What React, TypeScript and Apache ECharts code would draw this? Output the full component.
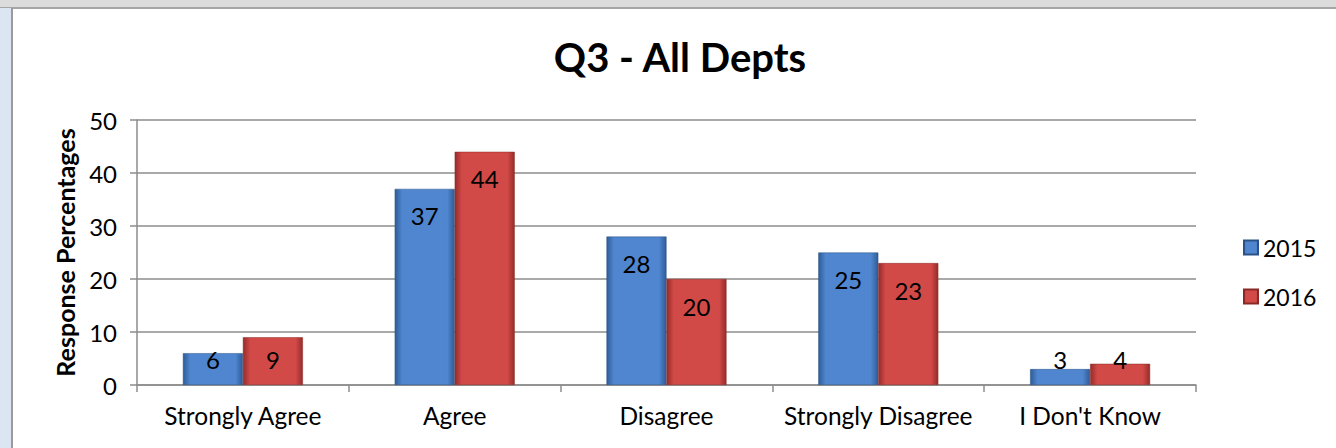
import React, { useEffect, useRef } from "react";
import * as echarts from "echarts";

const categories = ["Strongly Agree", "Agree", "Disagree", "Strongly Disagree", "I Don't Know"];
const series2015 = [6, 37, 28, 25, 3];
const series2016 = [9, 44, 20, 23, 4];
const yTicks = { min: 0, max: 50, interval: 10 };
const titleText = "Q3 - All Depts";
const yAxisTitle = "Response Percentages";

const FONT = "Lato, 'Open Sans', sans-serif";

function grad(dark: string, light: string) {
  return new echarts.graphic.LinearGradient(0, 0, 1, 0, [
    { offset: 0, color: dark },
    { offset: 0.12, color: light },
    { offset: 0.88, color: light },
    { offset: 1, color: dark },
  ]);
}

function makeData(values: number[]) {
  return values.map((v) => ({
    value: v,
    label:
      v < 11
        ? { position: "insideBottom", distance: 14 }
        : { position: "insideTop", distance: 15 },
  }));
}

export default function App() {
  const ref = useRef<HTMLDivElement>(null);
  useEffect(() => {
    if (!ref.current) return;
    const chart = echarts.init(ref.current, undefined, { renderer: "svg" });
    const labelStyle = {
      show: true,
      color: "#000",
      fontSize: 24,
      fontFamily: FONT,
    };
    chart.setOption({
      animation: false,
      backgroundColor: "#ffffff",
      textStyle: { fontFamily: FONT },
      graphic: [
        { type: "rect", shape: { x: 0, y: 0, width: 1336, height: 8 }, style: { fill: "#dcdcdc" }, silent: true },
        { type: "rect", shape: { x: 0, y: 7, width: 1336, height: 2 }, style: { fill: "#a6a6a6" }, silent: true },
        { type: "rect", shape: { x: 0, y: 8, width: 12, height: 440 }, style: { fill: "#dce6f2" }, silent: true },
        { type: "rect", shape: { x: 11, y: 8, width: 2, height: 440 }, style: { fill: "#9a9a9a" }, silent: true },
      ],
      title: {
        text: titleText,
        left: 675,
        top: 32,
        textAlign: "center",
        textStyle: { fontFamily: FONT, fontWeight: "bold", fontSize: 40, color: "#000" },
      },
      legend: {
        orient: "vertical",
        left: 1238,
        top: 231,
        itemWidth: 14,
        itemHeight: 14,
        itemGap: 26,
        icon: "rect",
        textStyle: { fontFamily: FONT, fontSize: 23, color: "#000" },
        data: ["2015", "2016"],
      },
      grid: { left: 137, right: 140, top: 120, bottom: 63 },
      xAxis: {
        type: "category",
        data: categories,
        axisLine: { lineStyle: { color: "#8c8c8c", width: 1.5 } },
        axisTick: { show: true, length: 7, lineStyle: { color: "#8c8c8c", width: 1.5 } },
        axisLabel: { color: "#000", fontSize: 24.5, fontFamily: FONT, margin: 18, interval: 0 },
      },
      yAxis: {
        type: "value",
        min: yTicks.min,
        max: yTicks.max,
        interval: yTicks.interval,
        name: yAxisTitle,
        nameLocation: "middle",
        nameRotate: 90,
        nameGap: 60,
        nameTextStyle: { fontFamily: FONT, fontWeight: "bold", fontSize: 25, color: "#000" },
        axisLine: { show: true, lineStyle: { color: "#8c8c8c", width: 1.5 } },
        axisTick: { show: true, length: 7, lineStyle: { color: "#8c8c8c", width: 1.5 } },
        axisLabel: { color: "#000", fontSize: 24, fontFamily: FONT, margin: 20 },
        splitLine: { lineStyle: { color: "#8c8c8c", width: 1.5 } },
      },
      series: [
        {
          name: "2015",
          type: "bar",
          data: makeData(series2015),
          barWidth: 60,
          barGap: "0%",
          itemStyle: { color: grad("#2e5c96", "#4f86cf"), borderColor: "#2a5286", borderWidth: 0.5 },
          label: labelStyle,
        },
        {
          name: "2016",
          type: "bar",
          data: makeData(series2016),
          barWidth: 60,
          barGap: "0%",
          itemStyle: { color: grad("#962c2a", "#d24a47"), borderColor: "#8a2826", borderWidth: 0.5 },
          label: labelStyle,
        },
      ],
    });
    return () => chart.dispose();
  }, []);
  return (
    <div
      ref={ref}
      style={{ position: "fixed", left: 0, top: 0, width: 1336, height: 448 }}
    />
  );
}
